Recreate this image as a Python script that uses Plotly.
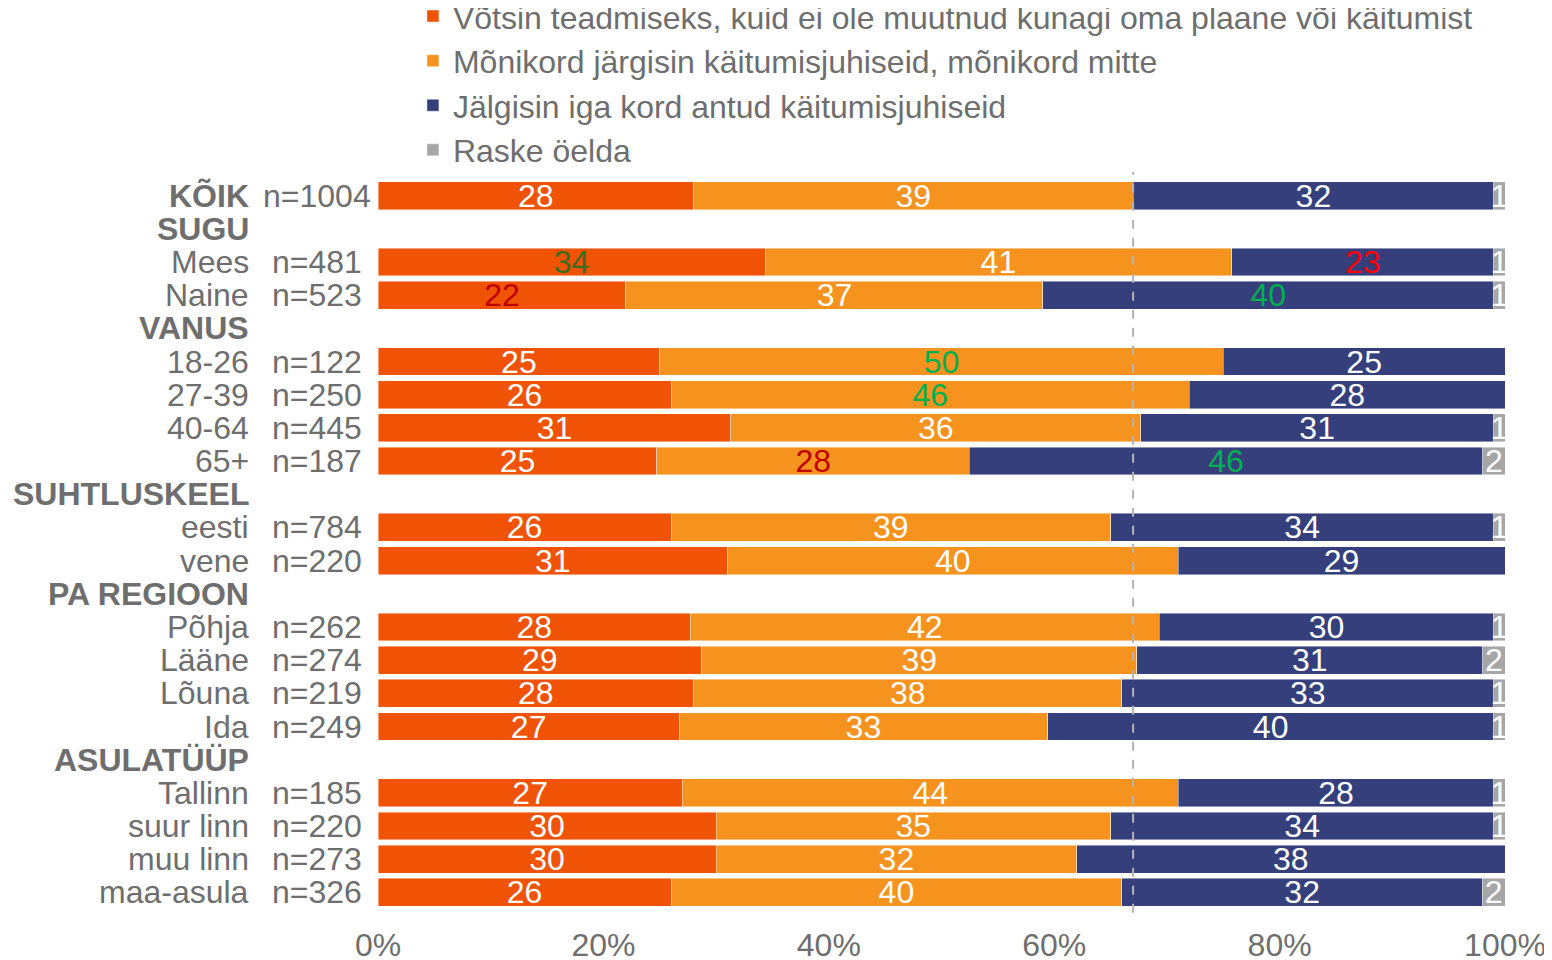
import plotly.graph_objects as go

# ---- data ----
rows = ["KÕIK", "SUGU", "Mees", "Naine", "VANUS", "18-26", "27-39", "40-64", "65+",
        "SUHTLUSKEEL", "eesti", "vene", "PA REGIOON", "Põhja", "Lääne", "Lõuna", "Ida",
        "ASULATÜÜP", "Tallinn", "suur linn", "muu linn", "maa-asula"]
n_labels = ["n=1004", "", "n=481", "n=523", "", "n=122", "n=250", "n=445", "n=187",
            "", "n=784", "n=220", "", "n=262", "n=274", "n=219", "n=249",
            "", "n=185", "n=220", "n=273", "n=326"]
headers = ["KÕIK", "SUGU", "VANUS", "SUHTLUSKEEL", "PA REGIOON", "ASULATÜÜP"]

votsin = [28, None, 34, 22, None, 25, 26, 31, 25, None, 26, 31, None, 28, 29, 28, 27, None, 27, 30, 30, 26]
monikord = [39, None, 41, 37, None, 50, 46, 36, 28, None, 39, 40, None, 42, 39, 38, 33, None, 44, 35, 32, 40]
jalgisin = [32, None, 23, 40, None, 25, 28, 31, 46, None, 34, 29, None, 30, 31, 33, 40, None, 28, 34, 38, 32]
raske = [1, None, 1, 1, None, 0, 0, 1, 2, None, 1, 0, None, 1, 2, 1, 1, None, 1, 1, 0, 2]

series_names = [
    "Võtsin teadmiseks, kuid ei ole muutnud kunagi oma plaane või käitumist",
    "Mõnikord järgisin käitumisjuhiseid, mõnikord mitte",
    "Jälgisin iga kord antud käitumisjuhiseid",
    "Raske öelda",
]
series_colors = ["#F05206", "#F6921E", "#353F7C", "#A6A6A6"]

# highlighted label colours (significant differences)
GREEN, RED, DKRED, DKGREEN = "#00B050", "#FF0000", "#C00000", "#3D6B1E"
highlight = {
    (0, 2): DKGREEN, (2, 2): RED,
    (0, 3): DKRED, (2, 3): GREEN,
    (1, 5): GREEN,
    (1, 6): GREEN,
    (1, 8): DKRED, (2, 8): GREEN,
}

FONT = "Liberation Sans, Arial, sans-serif"
GREY_TXT = "#6E6E6E"
FS = 32

fig = go.Figure()
ys = list(range(len(rows)))
for si, (vals, name, col) in enumerate(zip([votsin, monikord, jalgisin, raske], series_names, series_colors)):
    texts = ["" if (v is None or v == 0) else str(v) for v in vals]
    tcols = [highlight.get((si, i), "white") for i in range(len(vals))]
    fig.add_trace(go.Bar(
        y=ys, x=vals, name=name, orientation="h",
        marker=dict(color=col, line=dict(color="rgba(255,255,255,0.55)", width=0.8)),
        width=0.84,
        text=texts, textposition="inside", insidetextanchor="middle",
        textangle=0,
        textfont=dict(family=FONT, size=FS, color=tcols),
        hoverinfo="skip",
    ))

# reference line at KÕIK cumulative share of first two answers
ref = votsin[0] + monikord[0]
fig.add_shape(type="line", xref="x", yref="paper", x0=ref, x1=ref, y0=-0.005, y1=1.01,
              line=dict(color="#B4B4B4", width=2, dash="dash"), layer="above")

# row labels
for i, (r, nl) in enumerate(zip(rows, n_labels)):
    is_head = r in headers
    fig.add_annotation(xref="paper", yref="y", x=-0.1127, y=i, text=f"<b>{r}</b>" if is_head else r,
                       showarrow=False, xanchor="right", yanchor="middle",
                       font=dict(family=FONT, size=FS, color=GREY_TXT))
    if nl:
        fig.add_annotation(xref="paper", yref="y", x=-0.0541, y=i, text=nl,
                           showarrow=False, xanchor="center", yanchor="middle",
                           font=dict(family=FONT, size=FS, color=GREY_TXT))

# the page body adds an 8px offset, so the figure is sized to fit the window
fig.update_layout(
    width=1544, height=952,
    barmode="stack", barnorm="percent",
    paper_bgcolor="white", plot_bgcolor="white",
    margin=dict(l=370, r=47, t=171, b=51, autoexpand=False),
    showlegend=True,
    legend=dict(x=0.031, y=1.2606, xanchor="left", yanchor="top", orientation="v",
                traceorder="normal",
                font=dict(family=FONT, size=FS, color=GREY_TXT),
                bgcolor="rgba(0,0,0,0)"),
    uniformtext=dict(minsize=FS, mode="show"),
    xaxis=dict(range=[0, 100], tickvals=[0, 20, 40, 60, 80, 100],
               ticktext=["0%", "20%", "40%", "60%", "80%", "100%"],
               showgrid=False, zeroline=False, showline=False,
               ticks="outside", ticklen=8, tickcolor="rgba(0,0,0,0)",
               tickfont=dict(family=FONT, size=FS, color=GREY_TXT), fixedrange=True,
               automargin=False),
    yaxis=dict(range=[21.5, -0.5], showticklabels=False, showgrid=False,
               zeroline=False, showline=False, fixedrange=True, automargin=False),
    font=dict(family=FONT),
)

fig.write_html("out.html")
